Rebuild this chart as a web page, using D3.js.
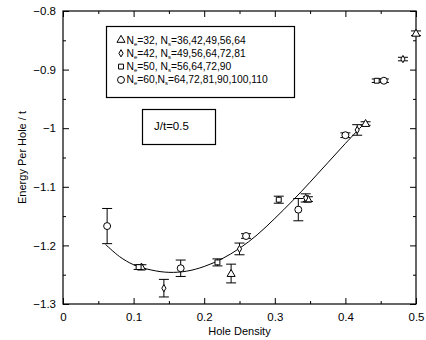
<!DOCTYPE html>
<html>
<head>
<meta charset="utf-8">
<script src="https://cdn.jsdelivr.net/npm/d3@7"></script>
<style>
  body { margin: 0; background: white; }
  text { font-family: "Liberation Sans", Arial, sans-serif; }
</style>
</head>
<body>
<svg id="chart"></svg>
<script>
// energy per hole vs hole density
var W = 426;
var H = 340;
var margin = {top: 11, right: 10, bottom: 36, left: 63};

// hole density = 1 - Ne/Ns
var tri_x = [0.1111, 0.2381, 0.3469, 0.4286, 0.5];
var tri_y = [-1.237, -1.248, -1.121, -0.992, -0.838];
var tri_err = [0.004, 0.016, 0.004, 0.003, 0.004];

var dia_x = [0.1429, 0.25, 0.34375, 0.4167, 0.4815];
var dia_y = [-1.273, -1.206, -1.119, -1.003, -0.882];
var dia_err = [0.015, 0.010, 0.007, 0.009, 0.003];

var sq_x = [0.1071, 0.21875, 0.3056, 0.4444];
var sq_y = [-1.237, -1.229, -1.122, -0.919];
var sq_err = [0.004, 0.006, 0.006, 0.003];

var circ_x = [0.0625, 0.1667, 0.2593, 0.3333, 0.4, 0.4545];
var circ_y = [-1.167, -1.239, -1.184, -1.139, -1.012, -0.919];
var circ_err = [0.030, 0.014, 0.004, 0.019, 0.004, 0.003];

// fit curve
var fit_x = [0.06, 0.08, 0.10, 0.125, 0.15, 0.175, 0.20, 0.225, 0.25, 0.275, 0.30, 0.325, 0.35, 0.375, 0.40, 0.426];
var fit_y = [-1.198, -1.219, -1.233, -1.242, -1.246, -1.244, -1.236, -1.223, -1.205, -1.182, -1.154, -1.124, -1.092, -1.059, -1.026, -0.993];

var legend_rows = [
  {sym: "triangle", ne: "32", ns: "36,42,49,56,64", sep: ", "},
  {sym: "diamond", ne: "42", ns: "49,56,64,72,81", sep: ", "},
  {sym: "square", ne: "50", ns: "56,64,72,90", sep: ", "},
  {sym: "circle", ne: "60", ns: "64,72,81,90,100,110", sep: ","}
];

var x_ticks = [0, 0.1, 0.2, 0.3, 0.4, 0.5];
var y_ticks = [-0.8, -0.9, -1, -1.1, -1.2, -1.3];

var svg = d3.select("#chart")
  .attr("width", W)
  .attr("height", H);

svg.append("rect")
  .attr("width", "100%")
  .attr("height", "100%")
  .attr("fill", "white");

var x = d3.scaleLinear()
  .domain([0, 0.5])
  .range([margin.left, W - margin.right]);

var y = d3.scaleLinear()
  .domain([-1.3, -0.8])
  .range([H - margin.bottom, margin.top]);

var x_minor = [0.05, 0.15, 0.25, 0.35, 0.45];
var y_minor = [-0.85, -0.95, -1.05, -1.15, -1.25];

var fmt = d3.format("");

function styleAxis(g) {
  g.select(".domain").remove();
  g.selectAll("line").attr("stroke", "black");
  g.selectAll("text")
    .attr("fill", "black")
    .style("font-size", "11.5px");
}

// bottom
svg.append("g")
  .attr("transform", `translate(0,${y.range()[0]})`)
  .call(d3.axisBottom(x).tickValues(x_ticks).tickFormat(fmt).tickSize(-6).tickPadding(9))
  .call(styleAxis);
svg.append("g")
  .attr("transform", `translate(0,${y.range()[0]})`)
  .call(d3.axisBottom(x).tickValues(x_minor).tickFormat("").tickSize(-3))
  .call(styleAxis);
// top
svg.append("g")
  .attr("transform", `translate(0,${y.range()[1]})`)
  .call(d3.axisTop(x).tickValues(x_ticks).tickFormat("").tickSize(-6))
  .call(styleAxis);
svg.append("g")
  .attr("transform", `translate(0,${y.range()[1]})`)
  .call(d3.axisTop(x).tickValues(x_minor).tickFormat("").tickSize(-3))
  .call(styleAxis);
// left
svg.append("g")
  .attr("transform", `translate(${x.range()[0]},0)`)
  .call(d3.axisLeft(y).tickValues(y_ticks).tickFormat(fmt).tickSize(-6).tickPadding(7))
  .call(styleAxis);
svg.append("g")
  .attr("transform", `translate(${x.range()[0]},0)`)
  .call(d3.axisLeft(y).tickValues(y_minor).tickFormat("").tickSize(-3))
  .call(styleAxis);
// right
svg.append("g")
  .attr("transform", `translate(${x.range()[1]},0)`)
  .call(d3.axisRight(y).tickValues(y_ticks).tickFormat("").tickSize(-6))
  .call(styleAxis);
svg.append("g")
  .attr("transform", `translate(${x.range()[1]},0)`)
  .call(d3.axisRight(y).tickValues(y_minor).tickFormat("").tickSize(-3))
  .call(styleAxis);

// frame
svg.append("rect")
  .attr("x", x.range()[0])
  .attr("y", y.range()[1])
  .attr("width", x.range()[1] - x.range()[0])
  .attr("height", y.range()[0] - y.range()[1])
  .attr("fill", "none")
  .attr("stroke", "black")
  .attr("stroke-width", 1.2);

// axis titles
svg.append("text")
  .attr("x", (x.range()[0] + x.range()[1]) / 2)
  .attr("y", 335)
  .attr("text-anchor", "middle")
  .style("font-size", "11px")
  .text("Hole Density");

svg.append("text")
  .attr("transform", `translate(26,${(y.range()[0] + y.range()[1]) / 2}) rotate(-90)`)
  .attr("text-anchor", "middle")
  .style("font-size", "11px")
  .text("Energy Per Hole / t");

// fit line
var line = d3.line()
  .x(d => x(d[0]))
  .y(d => y(d[1]))
  .curve(d3.curveCatmullRom);

svg.append("path")
  .datum(d3.zip(fit_x, fit_y))
  .attr("fill", "none")
  .attr("stroke", "black")
  .attr("stroke-width", 1)
  .attr("d", line);

var symbols = {
  triangle: d3.symbol().type(d3.symbolTriangle).size(28),
  diamond: d3.symbol().type(d3.symbolDiamond).size(15),
  square: d3.symbol().type(d3.symbolSquare).size(24),
  circle: d3.symbol().type(d3.symbolCircle).size(38)
};

var series = [
  {sym: "triangle", xs: tri_x, ys: tri_y, es: tri_err},
  {sym: "diamond", xs: dia_x, ys: dia_y, es: dia_err},
  {sym: "square", xs: sq_x, ys: sq_y, es: sq_err},
  {sym: "circle", xs: circ_x, ys: circ_y, es: circ_err}
];

var CAP = 5;

series.forEach(s => {
  var pts = s.xs.map((v, i) => ({x: v, y: s.ys[i], e: s.es[i]}));
  var g = svg.append("g")
    .attr("stroke", "black")
    .attr("stroke-width", 1)
    .attr("fill", "none");

  var eb = g.selectAll(".eb")
    .data(pts)
    .enter()
    .append("g");
  eb.append("line")
    .attr("x1", d => x(d.x)).attr("x2", d => x(d.x))
    .attr("y1", d => y(d.y - d.e)).attr("y2", d => y(d.y + d.e));
  eb.append("line")
    .attr("x1", d => x(d.x) - CAP).attr("x2", d => x(d.x) + CAP)
    .attr("y1", d => y(d.y - d.e)).attr("y2", d => y(d.y - d.e));
  eb.append("line")
    .attr("x1", d => x(d.x) - CAP).attr("x2", d => x(d.x) + CAP)
    .attr("y1", d => y(d.y + d.e)).attr("y2", d => y(d.y + d.e));

  g.selectAll(".pt")
    .data(pts)
    .enter()
    .append("path")
    .attr("transform", d => `translate(${x(d.x)},${y(d.y) + (s.sym == "triangle" ? 0.6 : 0)})`)
    .attr("fill", "white")
    .attr("d", symbols[s.sym]());
});

// legend
var lg = svg.append("g");
lg.append("rect")
  .attr("x", 106.5).attr("y", 26.5)
  .attr("width", 188).attr("height", 71)
  .attr("fill", "white")
  .attr("stroke", "black")
  .attr("stroke-width", 1.2);

legend_rows.forEach((r, i) => {
  var yy = 40 + i * 13.3;
  lg.append("path")
    .attr("transform", `translate(121,${yy})`)
    .attr("fill", "none")
    .attr("stroke", "black")
    .attr("d", symbols[r.sym]());
  var t = lg.append("text")
    .attr("x", 126.5)
    .attr("y", yy + 3.5)
    .style("font-size", "10.3px");
  t.append("tspan").text("N");
  t.append("tspan").attr("dy", 2).style("font-size", "6px").text("e");
  t.append("tspan").attr("dy", -2).text("=" + r.ne + r.sep + "N");
  t.append("tspan").attr("dy", 2).style("font-size", "6px").text("s");
  t.append("tspan").attr("dy", -2).text("=" + r.ns);
});

// J/t box
svg.append("rect")
  .attr("x", 142.5).attr("y", 109.5)
  .attr("width", 73).attr("height", 35)
  .attr("fill", "white")
  .attr("stroke", "black")
  .attr("stroke-width", 1.2);
svg.append("text")
  .attr("x", 154)
  .attr("y", 130)
  .style("font-size", "11.5px")
  .text("J/t=0.5");
</script>
</body>
</html>
